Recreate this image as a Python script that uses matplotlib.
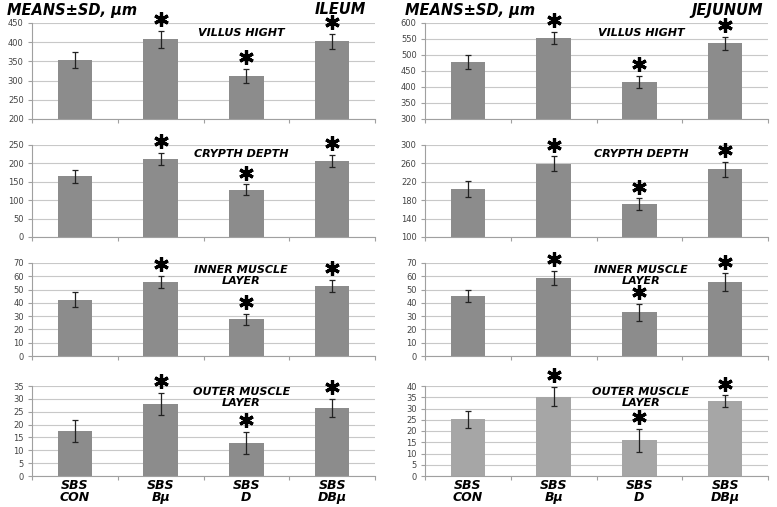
import matplotlib
matplotlib.use("Agg")
import matplotlib.pyplot as plt
import matplotlib.transforms as mtransforms
import numpy as np

# Groups on the x axis
groups = ["SBS\nCON", "SBS\nB\u03bc", "SBS\nD", "SBS\nDB\u03bc"]

# Ileum (means, SD)
ileum_villus = [353, 408, 313, 402]
ileum_villus_sd = [21, 22, 18, 19]
ileum_crypt = [165, 213, 129, 207]
ileum_crypt_sd = [17, 16, 14, 16]
ileum_inner = [42.5, 55.5, 27.5, 53]
ileum_inner_sd = [5.5, 4.5, 4.3, 4.5]
ileum_outer = [17.5, 28, 13, 26.5]
ileum_outer_sd = [4.3, 4.2, 4.3, 3.4]

# Jejunum (means, SD)
jejunum_villus = [478, 553, 416, 537]
jejunum_villus_sd = [22, 20, 18, 20]
jejunum_crypt = [204, 259, 171, 247]
jejunum_crypt_sd = [18, 16, 13, 17]
jejunum_inner = [45.5, 58.5, 33, 55.5]
jejunum_inner_sd = [4.5, 5.3, 6.5, 6.7]
jejunum_outer = [25.2, 35.3, 15.8, 33.2]
jejunum_outer_sd = [3.7, 4.3, 5.0, 2.6]

# which groups differ significantly (asterisk)
signif = [False, True, True, True]

panel_titles = ["VILLUS HIGHT", "CRYPTH DEPTH", "INNER MUSCLE\nLAYER", "OUTER MUSCLE\nLAYER"]

# (ymin, ymax, step) per panel
ileum_axes = [(200, 450, 50), (0, 250, 50), (0, 70, 10), (0, 35, 5)]
jejunum_axes = [(300, 600, 50), (100, 300, 40), (0, 70, 10), (0, 40, 5)]

W, H = 777, 507
fig = plt.figure(figsize=(W / 100, H / 100), dpi=100)

rows_px = [(23, 119), (145, 237), (263, 356), (386, 476)]
cols_px = [(32, 375), (425, 768)]
title_y = [0.95, 0.96, 0.98, 0.99]  # panel title top in axes fraction
title_x = [0.61, 0.63]

ileum = [(ileum_villus, ileum_villus_sd), (ileum_crypt, ileum_crypt_sd),
         (ileum_inner, ileum_inner_sd), (ileum_outer, ileum_outer_sd)]
jejunum = [(jejunum_villus, jejunum_villus_sd), (jejunum_crypt, jejunum_crypt_sd),
           (jejunum_inner, jejunum_inner_sd), (jejunum_outer, jejunum_outer_sd)]

for c, (data, lims) in enumerate([(ileum, ileum_axes), (jejunum, jejunum_axes)]):
    x0, x1 = cols_px[c]
    for r in range(4):
        t, b = rows_px[r]
        ax = fig.add_axes([x0 / W, 1 - b / H, (x1 - x0) / W, (b - t) / H])
        vals, sds = data[r]
        ymin, ymax, step = lims[r]
        xs = np.arange(len(groups))
        color = "#a6a6a6" if (c == 1 and r == 3) else "#8c8c8c"
        ax.bar(xs, vals, width=0.4, color=color, zorder=2)
        ax.errorbar(xs, vals, yerr=sds, fmt="none", ecolor="#222222",
                    elinewidth=0.9, capsize=2.2, capthick=0.9, zorder=3)

        # asterisks above the error bars
        trans = mtransforms.offset_copy(ax.transData, fig=fig, y=8.5, units="points")
        for i in range(len(groups)):
            if signif[i]:
                ax.plot(xs[i], vals[i] + sds[i], marker=(6, 2, 0), ms=10.5, mew=2.3,
                        color="black", transform=trans, clip_on=False, zorder=4)

        ax.set_xlim(-0.5, 3.5)
        ax.set_ylim(ymin, ymax)
        ax.set_yticks(np.arange(ymin, ymax + step / 2, step))
        ax.yaxis.grid(True, color="#c8c8c8", linewidth=0.8, zorder=0)
        ax.set_axisbelow(True)
        for s in ["top", "right"]:
            ax.spines[s].set_visible(False)
        for s in ["left", "bottom"]:
            ax.spines[s].set_color("#a0a0a0")
            ax.spines[s].set_linewidth(0.8)
        ax.tick_params(axis="y", labelsize=6, colors="#a0a0a0", labelcolor="#444444",
                       length=3, width=0.8, pad=3)
        ax.set_xticks(xs)
        ax.set_xticks([-0.5, 0.5, 1.5, 2.5, 3.5], minor=True)
        ax.tick_params(axis="x", which="minor", length=3, colors="#a0a0a0", width=0.8)
        ax.tick_params(axis="x", which="major", length=0)
        if r == 3:
            ax.set_xticklabels(groups, fontsize=9, fontweight="bold", fontstyle="italic",
                               linespacing=0.95)
            ax.tick_params(axis="x", which="major", pad=2)
        else:
            ax.set_xticklabels([])

        ax.text(title_x[c], title_y[r], panel_titles[r], transform=ax.transAxes,
                ha="center", va="top", fontsize=8, fontweight="bold",
                fontstyle="italic", linespacing=1.15)

# headers
hdr = dict(fontsize=10.5, fontweight="bold", fontstyle="italic", va="center")
fig.text(7 / W, 1 - 10 / H, "MEANS\u00b1SD, \u03bcm", ha="left", **hdr)
fig.text(366 / W, 1 - 10 / H, "ILEUM", ha="right", **hdr)
fig.text(405 / W, 1 - 10 / H, "MEANS\u00b1SD, \u03bcm", ha="left", **hdr)
fig.text(763 / W, 1 - 10 / H, "JEJUNUM", ha="right", **hdr)

fig.savefig("out.png", dpi=100)
